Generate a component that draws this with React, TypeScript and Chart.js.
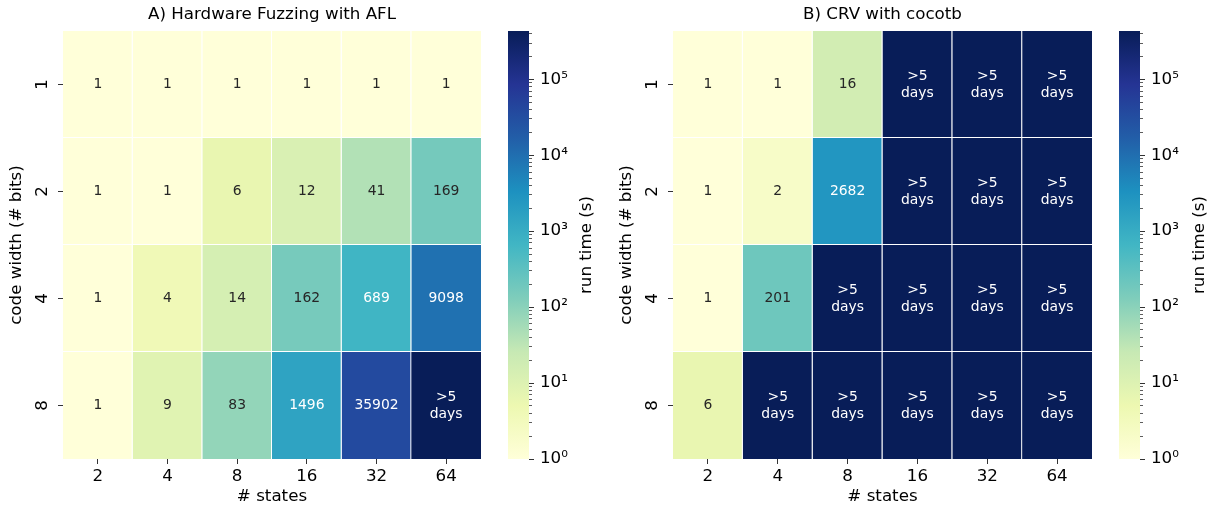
import React, { useEffect, useRef } from 'react';
import { Chart, registerables } from 'chart.js';

Chart.register(...registerables);

// ---------- data ----------
const stateLabels = ['2', '4', '8', '16', '32', '64'];
const widthLabels = ['1', '2', '4', '8'];

// null = timed out (">5 days")
const aflRuntimes: (number | null)[][] = [
  [1, 1, 1, 1, 1, 1],
  [1, 1, 6, 12, 41, 169],
  [1, 4, 14, 162, 689, 9098],
  [1, 9, 83, 1496, 35902, null],
];
const crvRuntimes: (number | null)[][] = [
  [1, 1, 16, null, null, null],
  [1, 2, 2682, null, null, null],
  [1, 201, null, null, null, null],
  [6, null, null, null, null, null],
];
const timeoutLabel = ['>5', 'days'];

const titleA = 'A) Hardware Fuzzing with AFL';
const titleB = 'B) CRV with cocotb';
const xTitle = '# states';
const yTitle = 'code width (# bits)';
const cbarTitle = 'run time (s)';

const cbarMin = 1;
const cbarMax = 432000; // 5 days in seconds
const cbarTickValues = [1, 10, 100, 1000, 10000, 100000];
const cbarTickLabels = ['10⁰', '10¹', '10²', '10³', '10⁴', '10⁵'];
const cbarMinorMultipliers = [2, 3, 4, 5, 6, 7, 8, 9];

// matplotlib YlGnBu
const ylgnbu = ['#ffffd9', '#edf8b1', '#c7e9b4', '#7fcdbb', '#41b6c4', '#1d91c0', '#225ea8', '#253494', '#081d58'];

// ---------- helpers ----------
const FONT = '"DejaVu Sans", "Liberation Sans", sans-serif';
Chart.defaults.font.family = FONT;
Chart.defaults.color = '#000';

function hexToRgb(h: string): number[] {
  const n = parseInt(h.slice(1), 16);
  return [(n >> 16) & 255, (n >> 8) & 255, n & 255];
}
function cmap(t: number): number[] {
  const tt = Math.min(1, Math.max(0, t));
  const pos = tt * (ylgnbu.length - 1);
  const i = Math.min(Math.floor(pos), ylgnbu.length - 2);
  const f = pos - i;
  const a = hexToRgb(ylgnbu[i]);
  const b = hexToRgb(ylgnbu[i + 1]);
  return [0, 1, 2].map((k) => a[k] + (b[k] - a[k]) * f);
}
function rgbFor(v: number | null): number[] {
  const val = v === null ? cbarMax : v;
  const t = Math.log10(val / cbarMin) / Math.log10(cbarMax / cbarMin);
  return cmap(t);
}
function cssRgb(c: number[]): string {
  return `rgb(${Math.round(c[0])},${Math.round(c[1])},${Math.round(c[2])})`;
}
function textColorFor(c: number[]): string {
  const lin = c.map((x) => {
    const s = x / 255;
    return s <= 0.03928 ? s / 12.92 : Math.pow((s + 0.055) / 1.055, 2.4);
  });
  const lum = 0.2126 * lin[0] + 0.7152 * lin[1] + 0.0722 * lin[2];
  return lum > 0.408 ? '#262626' : '#ffffff';
}

const TICK_FONT = { size: 16.7, family: FONT };
const ANNOT_FONT = `13.9px ${FONT}`;

// ---------- heatmap ----------
function Heatmap(props: { values: (number | null)[][]; title: string; left: number; width: number; padRight: number }) {
  const ref = useRef<HTMLCanvasElement>(null);
  useEffect(() => {
    const values = props.values;
    const nRows = values.length;
    const datasets = values.map((row, r) => ({
      label: widthLabels[r],
      data: row.map(() => [r - 0.5, r + 0.5]),
      backgroundColor: row.map((v) => cssRgb(rgbFor(v))),
      borderColor: '#ffffff',
      borderWidth: (ctx: any) => ({
        top: 0,
        left: 0,
        right: ctx.dataIndex < row.length - 1 ? 1 : 0,
        bottom: r < nRows - 1 ? 1 : 0,
      }),
      borderSkipped: false,
      inflateAmount: 0,
      barPercentage: 1,
      categoryPercentage: 1,
      grouped: false,
    }));

    const annotate = {
      id: 'annotate',
      afterDatasetsDraw(chart: any) {
        const ctx = chart.ctx;
        ctx.save();
        ctx.font = ANNOT_FONT;
        ctx.textAlign = 'center';
        ctx.textBaseline = 'middle';
        values.forEach((row, r) => {
          const meta = chart.getDatasetMeta(r);
          row.forEach((v, c) => {
            const el = meta.data[c];
            if (!el) return;
            const p = el.getCenterPoint();
            ctx.fillStyle = textColorFor(rgbFor(v));
            if (v === null) {
              ctx.fillText(timeoutLabel[0], p.x, p.y - 8.5);
              ctx.fillText(timeoutLabel[1], p.x, p.y + 8.5);
            } else {
              ctx.fillText(String(v), p.x, p.y);
            }
          });
        });
        ctx.restore();
      },
    };

    const tickGrid = {
      display: true,
      drawOnChartArea: false,
      drawTicks: true,
      tickLength: 5,
      tickColor: '#333',
      tickWidth: 1,
      offset: false,
    };

    const chart = new Chart(ref.current as HTMLCanvasElement, {
      type: 'bar',
      data: { labels: stateLabels, datasets: datasets as any },
      plugins: [annotate],
      options: {
        animation: false,
        responsive: false,
        devicePixelRatio: window.devicePixelRatio || 1,
        layout: { padding: { left: 0, right: props.padRight, top: 0, bottom: 0 } },
        plugins: { legend: { display: false }, tooltip: { enabled: false } },
        scales: {
          x: {
            type: 'category',
            position: 'bottom',
            grid: tickGrid as any,
            border: { display: false },
            ticks: { color: '#000', font: TICK_FONT, padding: 3, maxRotation: 0, autoSkip: false },
            title: { display: true, text: xTitle, color: '#000', font: TICK_FONT, padding: { top: 0, bottom: 8 } },
            afterFit: (s: any) => { s.height = 56; },
          },
          xTop: {
            type: 'category',
            position: 'top',
            grid: { display: false },
            border: { display: false },
            ticks: { display: false },
            title: { display: true, text: props.title, color: '#000', font: TICK_FONT, padding: { top: 5, bottom: 0 } },
            afterFit: (s: any) => { s.height = 31; },
          },
          y: {
            type: 'linear',
            position: 'left',
            min: -0.5,
            max: nRows - 0.5,
            reverse: true,
            grid: tickGrid as any,
            border: { display: false },
            afterBuildTicks: (s: any) => { s.ticks = widthLabels.map((_, i) => ({ value: i })); },
            ticks: {
              color: '#000',
              font: TICK_FONT,
              minRotation: 90,
              maxRotation: 90,
              crossAlign: 'center',
              padding: 9.7,
              autoSkip: false,
              callback: (v: any) => widthLabels[Math.round(Number(v))],
            },
            title: { display: true, text: yTitle, color: '#000', font: TICK_FONT, padding: { top: 7, bottom: 0 } },
            afterFit: (s: any) => { s.width = 63; },
          },
        } as any,
      },
    });
    return () => chart.destroy();
  }, []);
  return (
    <canvas
      ref={ref}
      width={props.width}
      height={515}
      style={{ position: 'absolute', left: props.left, top: 0, width: props.width, height: 515 }}
    />
  );
}

// ---------- colorbar ----------
function Colorbar(props: { left: number; width: number; padLeft: number; axisWidth: number; labelOffset: number }) {
  const ref = useRef<HTMLCanvasElement>(null);
  useEffect(() => {
    const minorTicks: number[] = [];
    cbarTickValues.forEach((d) => cbarMinorMultipliers.forEach((m) => {
      if (d * m <= cbarMax) minorTicks.push(d * m);
    }));

    const label = {
      id: 'cbarLabel',
      afterDraw(chart: any) {
        const { ctx, chartArea } = chart;
        ctx.save();
        ctx.translate(chartArea.right + props.labelOffset, (chartArea.top + chartArea.bottom) / 2);
        ctx.rotate(-Math.PI / 2);
        ctx.font = `16.7px ${FONT}`;
        ctx.fillStyle = '#000';
        ctx.textAlign = 'center';
        ctx.textBaseline = 'middle';
        ctx.fillText(cbarTitle, 0, 0);
        ctx.restore();
      },
    };

    const chart = new Chart(ref.current as HTMLCanvasElement, {
      type: 'bar',
      data: {
        labels: ['cbar'],
        datasets: [{
          data: [[cbarMin, cbarMax]] as any,
          backgroundColor: (ctx: any) => {
            const area = ctx.chart.chartArea;
            if (!area) return ylgnbu[0];
            const g = ctx.chart.ctx.createLinearGradient(0, area.bottom, 0, area.top);
            ylgnbu.forEach((c, i) => g.addColorStop(i / (ylgnbu.length - 1), c));
            return g;
          },
          borderWidth: 0,
          inflateAmount: 0,
          barPercentage: 1,
          categoryPercentage: 1,
        } as any],
      },
      plugins: [label],
      options: {
        animation: false,
        responsive: false,
        layout: { padding: { left: props.padLeft, right: 0, top: 31, bottom: 56 } },
        plugins: { legend: { display: false }, tooltip: { enabled: false } },
        scales: {
          x: { display: false },
          yMinor: {
            type: 'logarithmic',
            position: 'right',
            weight: 0,
            min: cbarMin,
            max: cbarMax,
            grid: { display: true, drawOnChartArea: false, drawTicks: true, tickLength: 3, tickColor: '#333', tickWidth: 0.8 },
            border: { display: false },
            ticks: { display: false },
            afterBuildTicks: (s: any) => { s.ticks = minorTicks.map((v) => ({ value: v })); },
            afterFit: (s: any) => { s.width = 0; },
          },
          y: {
            type: 'logarithmic',
            position: 'right',
            weight: 1,
            min: cbarMin,
            max: cbarMax,
            grid: { display: true, drawOnChartArea: false, drawTicks: true, tickLength: 5, tickColor: '#333', tickWidth: 1 },
            border: { display: false },
            ticks: {
              color: '#000',
              font: TICK_FONT,
              padding: 6,
              autoSkip: false,
              callback: (v: any) => {
                const i = cbarTickValues.indexOf(Number(v));
                return i >= 0 ? cbarTickLabels[i] : '';
              },
            },
            afterBuildTicks: (s: any) => { s.ticks = cbarTickValues.map((v) => ({ value: v })); },
            afterFit: (s: any) => { s.width = props.axisWidth; },
          },
        } as any,
      },
    });
    return () => chart.destroy();
  }, []);
  return (
    <canvas
      ref={ref}
      width={props.width}
      height={515}
      style={{ position: 'absolute', left: props.left, top: 0, width: props.width, height: 515 }}
    />
  );
}

export default function App() {
  return (
    <div style={{ position: 'absolute', left: 0, top: 0, width: 1210, height: 515, background: '#fff', overflow: 'hidden' }}>
      <Heatmap values={aflRuntimes} title={titleA} left={0} width={500} padRight={19} />
      <Colorbar left={500} width={110} padLeft={8} axisWidth={81} labelOffset={58} />
      <Heatmap values={crvRuntimes} title={titleB} left={610} width={500} padRight={18} />
      <Colorbar left={1110} width={100} padLeft={9} axisWidth={70} labelOffset={60} />
    </div>
  );
}
